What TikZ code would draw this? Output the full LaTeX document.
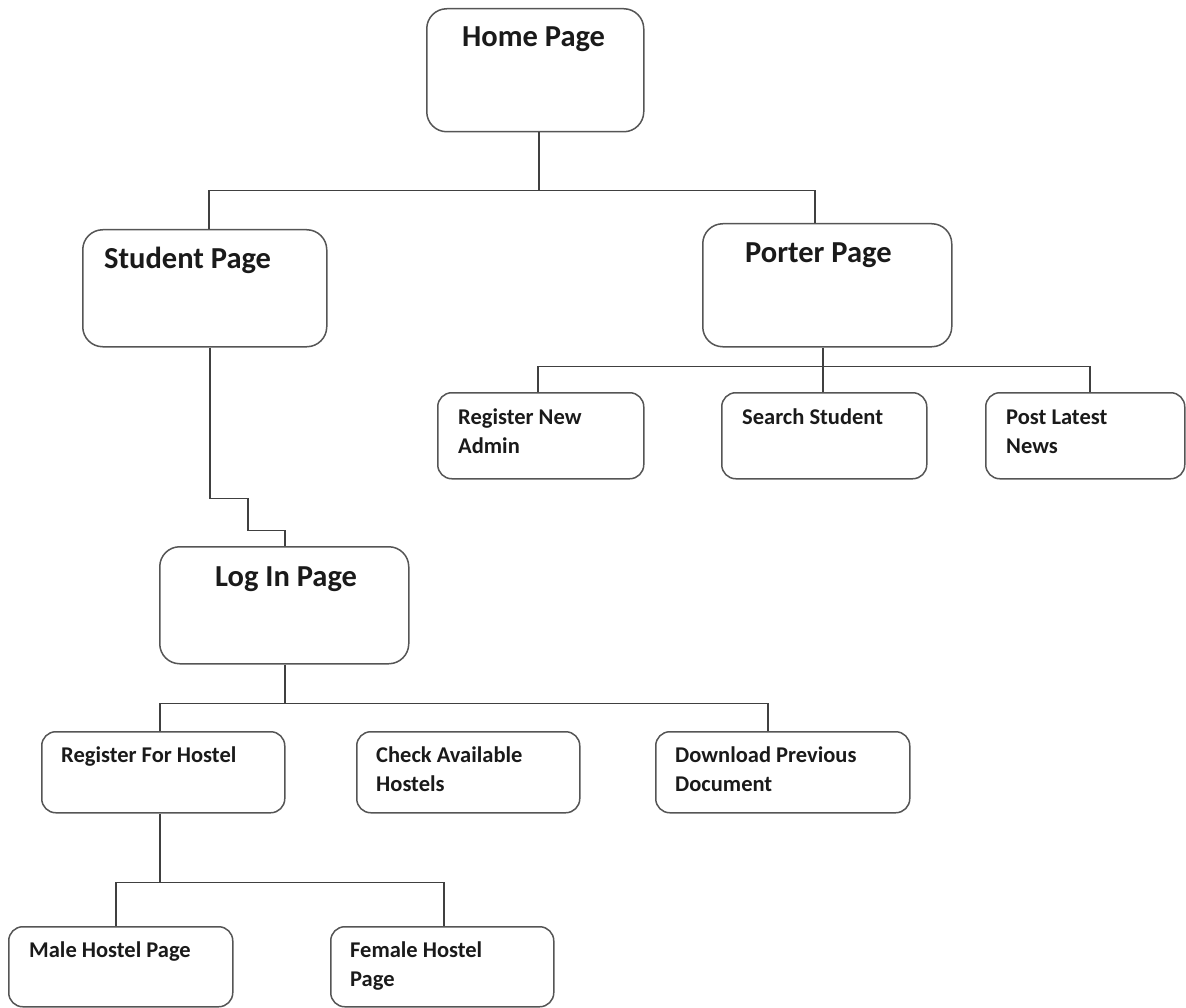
\documentclass[tikz,border=0pt]{standalone}
\usepackage{fontspec}
\setmainfont{Carlito}
\usetikzlibrary{calc}
\definecolor{boxgray}{HTML}{555555}
\definecolor{linegray}{HTML}{404040}
\definecolor{txt}{HTML}{1A1A1A}
\tikzset{
  bigbox/.style={draw=boxgray, line width=1.5pt, rounded corners=20pt, anchor=north west, inner sep=0pt},
  smallbox/.style={draw=boxgray, line width=1.5pt, rounded corners=14pt, anchor=north west, inner sep=0pt},
  bigtitle/.style={anchor=base west, inner sep=0pt, text=txt, font=\fontsize{30.5}{34}\selectfont\bfseries},
  smalltitle/.style={anchor=base west, inner sep=0pt, text=txt, align=left, font=\fontsize{22.5}{29}\selectfont\bfseries},
  conn/.style={draw=linegray, line width=1.6pt}
}
\begin{document}
\begin{tikzpicture}[x=1pt,y=-1pt]
\useasboundingbox (0,0) rectangle (1186,1008);
% boxes
\node[bigbox, minimum width=217pt, minimum height=123pt] (home) at (426,8) {};
\node[bigbox, minimum width=244pt, minimum height=117pt] (stud) at (82,229) {};
\node[bigbox, minimum width=249pt, minimum height=123pt] (port) at (702,223) {};
\node[smallbox, minimum width=206pt, minimum height=86pt] (rna) at (437,392) {};
\node[smallbox, minimum width=205pt, minimum height=86pt] (ss) at (721,392) {};
\node[smallbox, minimum width=199pt, minimum height=86pt] (pln) at (985,392) {};
\node[bigbox, minimum width=249pt, minimum height=117pt] (login) at (159,546) {};
\node[smallbox, minimum width=243pt, minimum height=81pt] (rfh) at (41,731) {};
\node[smallbox, minimum width=223pt, minimum height=81pt] (cah) at (356,731) {};
\node[smallbox, minimum width=254pt, minimum height=81pt] (dpd) at (655,731) {};
\node[smallbox, minimum width=224pt, minimum height=80pt] (male) at (8,926) {};
\node[smallbox, minimum width=223pt, minimum height=80pt] (female) at (330,926) {};
% texts (two-line texts are placed by the baseline of their last line)
\node[bigtitle] (thome) at (462,47) {Home Page};
\node[bigtitle] (tstud) at (104,269) {Student Page};
\node[bigtitle] (tport) at (745,263) {Porter Page};
\node[bigtitle] (tlogin) at (215,586) {Log In Page};
\node[smalltitle] (trna) at (458,453) {Register New\\Admin};
\node[smalltitle] (tss) at (742,424) {Search Student};
\node[smalltitle] (tpln) at (1006,453) {Post Latest\\News};
\node[smalltitle] (trfh) at (61,762) {Register For Hostel};
\node[smalltitle] (tcah) at (376,791) {Check Available\\Hostels};
\node[smalltitle] (tdpd) at (675,791) {Download Previous\\Document};
\node[smalltitle] (tmale) at (29,957) {Male Hostel Page};
\node[smalltitle] (tfemale) at (350,986) {Female Hostel\\Page};
% connectors
\draw[conn] ($(home.south west)+(113,0)$) -- ++(0,58) coordinate (hb);
\draw[conn] ($(stud.north west)+(127,0)$) |- (hb) -| ($(port.north west)+(113,0)$);
\draw[conn] ($(port.south west)+(121,0)$) -- ++(0,19) coordinate (pb) -- ($(ss.north west)+(102,0)$);
\draw[conn] ($(rna.north west)+(101,0)$) |- (pb) -| ($(pln.north west)+(105,0)$);
\draw[conn] ($(stud.south west)+(128,0)$) -- ++(0,151) -- ++(38,0) -- ++(0,32) -- ++(37,0) -- ($(login.north west)+(126,0)$);
\draw[conn] ($(login.south west)+(126,0)$) -- ++(0,39) coordinate (lb);
\draw[conn] ($(rfh.north west)+(119,0)$) |- (lb) -| ($(dpd.north west)+(113,0)$);
\draw[conn] ($(cah.north west)+(114,0)$) -- ($(cah.north west)+(114,0)$ |- lb);
\draw[conn] ($(rfh.south west)+(119,0)$) -- ++(0,69) coordinate (rb);
\draw[conn] ($(male.north west)+(108,0)$) |- (rb) -| ($(female.north west)+(114,0)$);
\end{tikzpicture}
\end{document}
